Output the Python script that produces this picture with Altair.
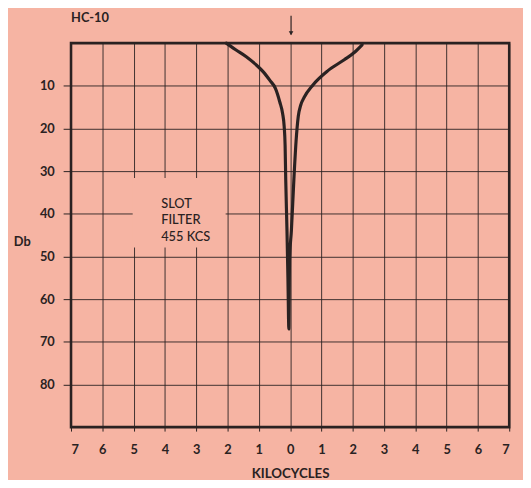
import altair as alt
import pandas as pd

BG = "#F6B4A3"
INK = "#2a2222"

# Response curve of the slot filter (kilocycles off 455 kcs, attenuation in Db)
curve_kc = [-2.04, -1.75, -1.40, -1.10, -0.85, -0.64, -0.47, -0.33, -0.24, -0.19, -0.16, -0.14, -0.10, -0.07, -0.04,
            -0.03, -0.02, 0.04, 0.12, 0.19, 0.26, 0.34, 0.45, 0.73, 1.20, 1.73, 2.05, 2.30]
curve_db = [0.0, 1.5, 3.2, 5.0, 6.8, 8.8, 10.6, 13.8, 16.5, 19.5, 24.0, 32.0, 44.0, 55.0, 67.0,
            60.0, 51.0, 44.0, 32.0, 23.0, 17.2, 14.5, 12.7, 9.8, 6.5, 3.9, 2.2, 0.4]

x_ticks = [-7, -6, -5, -4, -3, -2, -1, 0, 1, 2, 3, 4, 5, 6, 7]
y_ticks = [10, 20, 30, 40, 50, 60, 70, 80]
label_lines = ["SLOT", "FILTER", "455 KCS"]
label_db = [37.6, 41.5, 45.4]
chart_title = "HC-10"

curve = pd.DataFrame({"kc": curve_kc, "db": curve_db, "order": list(range(len(curve_kc)))})
labels = pd.DataFrame({"kc": [-4.12] * 3, "db": label_db, "text": label_lines})
mask = pd.DataFrame({"kc": [-5.03], "kc2": [-2.06], "db": [31.6], "db2": [47.9]})
arrow = pd.DataFrame({"kc": [0.03], "db": [-6.4], "db2": [-2.0]})
arrow_head = pd.DataFrame({"kc": [0.03], "db": [-2.3]})
title_df = pd.DataFrame({"kc": [-7.0], "db": [-5.8], "text": [chart_title]})

xscale = alt.Scale(domain=[-7, 7], nice=False, zero=False)
yscale = alt.Scale(domain=[0, 90], reverse=True, nice=False, zero=False)

xaxis = alt.Axis(values=x_ticks, labelExpr="abs(datum.value)", title="KILOCYCLES",
                 labelOverlap=False, tickCount=30,
                 grid=True, gridColor=INK, gridWidth=1, gridOpacity=0.9,
                 domain=False, ticks=True, tickSize=4, tickColor=INK,
                 labelFont="Lato", labelFontWeight="bold", labelFontSize=13, labelColor=INK,
                 labelPadding=13, titleFont="Lato", titleFontWeight="bold", titleFontSize=13.5,
                 titleColor=INK, titleY=47, titleBaseline="middle")
yaxis = alt.Axis(values=y_ticks, title="Db", titleAngle=0, titleX=-50, titleY=202,
                 titleAlign="center", titleBaseline="middle", labelOverlap=False, tickCount=30,
                 grid=True, gridColor=INK, gridWidth=1, gridOpacity=0.9,
                 domain=False, ticks=True, tickSize=8, tickColor=INK,
                 labelFont="Lato", labelFontWeight="bold", labelFontSize=13, labelColor=INK,
                 labelPadding=9, titleFont="Lato", titleFontWeight="bold", titleFontSize=13,
                 titleColor=INK)

X = alt.X("kc:Q", scale=xscale, axis=xaxis)
Y = alt.Y("db:Q", scale=yscale, axis=yaxis)

line = alt.Chart(curve).mark_line(color=INK, strokeWidth=3.2, strokeCap="round",
                                  strokeJoin="round", interpolate="monotone", clip=False).encode(
    x=X, y=Y, order="order:Q",
)

box = alt.Chart(mask).mark_rect(fill=BG).encode(x=X, x2="kc2:Q", y=Y, y2="db2:Q")

text = alt.Chart(labels).mark_text(align="left", baseline="middle", font="Lato",
                                   fontSize=13, fontWeight=500, color=INK).encode(
    x=X, y=Y, text="text:N")

title_mark = alt.Chart(title_df).mark_text(align="left", baseline="middle", font="Lato",
                                           fontSize=13, fontWeight="bold", color=INK,
                                           clip=False).encode(
    x=X, y=Y, text="text:N")

arr = alt.Chart(arrow).mark_rule(color=INK, strokeWidth=1.2, clip=False).encode(
    x=X, y=Y, y2="db2:Q")
head = alt.Chart(arrow_head).mark_point(shape="triangle-down", filled=True, size=22,
                                        color=INK, opacity=1, clip=False).encode(
    x=X, y=Y)

chart = alt.layer(box, text, line, arr, head, title_mark).properties(
    width=445, height=390,
    autosize=alt.AutoSizeParams(type="none"),
    padding={"left": 64, "top": 32, "right": 14, "bottom": 50},
    background=BG,
).configure_view(stroke=INK, strokeWidth=2.6)

chart.save("out.html", embed_options={"renderer": "svg", "actions": False})
